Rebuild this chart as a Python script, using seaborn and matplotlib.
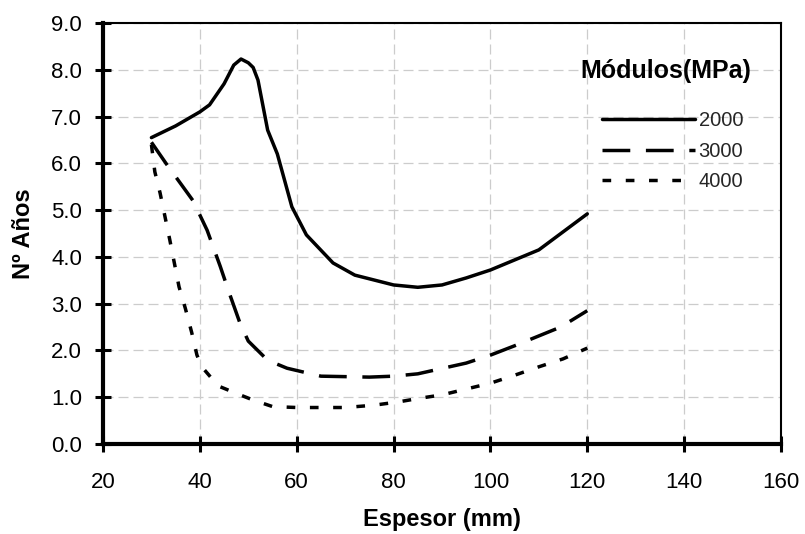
import numpy as np
import pandas as pd
import matplotlib
matplotlib.use("Agg")
import matplotlib.pyplot as plt
import seaborn as sns
from matplotlib.ticker import FormatStrFormatter

# ---- data ----
x_2000 = [30, 35, 40, 42, 45, 47, 48.5, 50, 51, 52, 54, 56, 59, 62, 67.5, 72, 80, 85, 90, 95, 100, 110, 120]
y_2000 = [6.55, 6.80, 7.10, 7.25, 7.70, 8.10, 8.23, 8.15, 8.05, 7.78, 6.71, 6.20, 5.07, 4.47, 3.87, 3.61, 3.40, 3.35, 3.40, 3.55, 3.72, 4.15, 4.92]

x_3000 = [30, 33, 38.6, 41.5, 44.2, 46, 48.3, 50, 54, 58, 65, 75, 80, 85, 95, 100, 105, 114.5, 120]
y_3000 = [6.45, 6.00, 5.20, 4.57, 3.80, 3.25, 2.58, 2.20, 1.79, 1.62, 1.45, 1.43, 1.45, 1.50, 1.73, 1.90, 2.10, 2.50, 2.85]

x_4000 = [30, 30.7, 31.8, 33.8, 35.7, 37, 38.3, 39.4, 40.4, 43.8, 48.3, 51, 55, 60, 70, 76, 81, 85.5, 90, 96, 100, 105, 110, 115, 120]
y_4000 = [6.40, 5.82, 5.36, 4.36, 3.36, 2.90, 2.39, 1.90, 1.65, 1.24, 1.05, 0.94, 0.80, 0.78, 0.78, 0.83, 0.90, 0.98, 1.05, 1.20, 1.30, 1.47, 1.65, 1.82, 2.05]

series_labels = ["2000", "3000", "4000"]
x_ticks = [20, 40, 60, 80, 100, 120, 140, 160]
y_ticks = [0, 1, 2, 3, 4, 5, 6, 7, 8, 9]
x_label = "Espesor (mm)"
y_label = "Nº Años"
legend_title = "Módulos(MPa)"

df = pd.concat([
    pd.DataFrame({"Espesor": xs, "Anos": ys, "Modulo": lab})
    for xs, ys, lab in zip([x_2000, x_3000, x_4000], [y_2000, y_3000, y_4000], series_labels)
], ignore_index=True)

sns.set_theme(style="white")
plt.rcParams["font.family"] = ["Liberation Sans", "DejaVu Sans"]

W, H = 805, 534
fig, ax = plt.subplots(figsize=(W / 100, H / 100), dpi=100)
fig.subplots_adjust(left=103 / W, right=781 / W, top=1 - 23 / H, bottom=1 - 444 / H)

dash_map = {"2000": "", "3000": (8, 4.5), "4000": (2.5, 4.2)}
sns.lineplot(data=df, x="Espesor", y="Anos", hue="Modulo", style="Modulo",
             palette={k: "black" for k in series_labels}, dashes=dash_map,
             sort=False, estimator=None, linewidth=2.5, ax=ax)

ax.set_xlim(20, 160)
ax.set_ylim(0, 9)
ax.set_xticks(x_ticks)
ax.set_yticks(y_ticks)
ax.yaxis.set_major_formatter(FormatStrFormatter("%.1f"))

ax.set_axisbelow(True)
ax.grid(True, color="#cccccc", linestyle=(0, (8, 4)), linewidth=0.9)

for s in ["left", "bottom"]:
    ax.spines[s].set_linewidth(3)
    ax.spines[s].set_color("black")
for s in ["top", "right"]:
    ax.spines[s].set_linewidth(1.5)
    ax.spines[s].set_color("black")

ax.tick_params(axis="both", direction="inout", length=12, width=2.2, color="black",
               labelsize=16, labelcolor="black", bottom=True, left=True)
ax.tick_params(axis="y", pad=9)
ax.tick_params(axis="x", pad=14)

ax.set_xlabel(x_label, fontsize=17, fontweight="bold", color="black", labelpad=11)
ax.set_ylabel(y_label, fontsize=17, fontweight="bold", color="black", labelpad=12)

handles, labels = ax.get_legend_handles_labels()
leg = ax.legend(handles, labels, loc="upper left",
                bbox_to_anchor=(602 / W, 1 - 111 / H), bbox_transform=fig.transFigure,
                frameon=False, fontsize=14.5, handlelength=4.6, handletextpad=0.2,
                labelspacing=0.58, borderpad=0, borderaxespad=0)
for h in leg.get_lines():
    h.set_linewidth(2.5)
    h.set_color("black")

fig.text(580 / W, 1 - 71 / H, legend_title, fontsize=18, fontweight="bold",
         color="black", ha="left", va="center")

fig.savefig("out.png", dpi=100)
